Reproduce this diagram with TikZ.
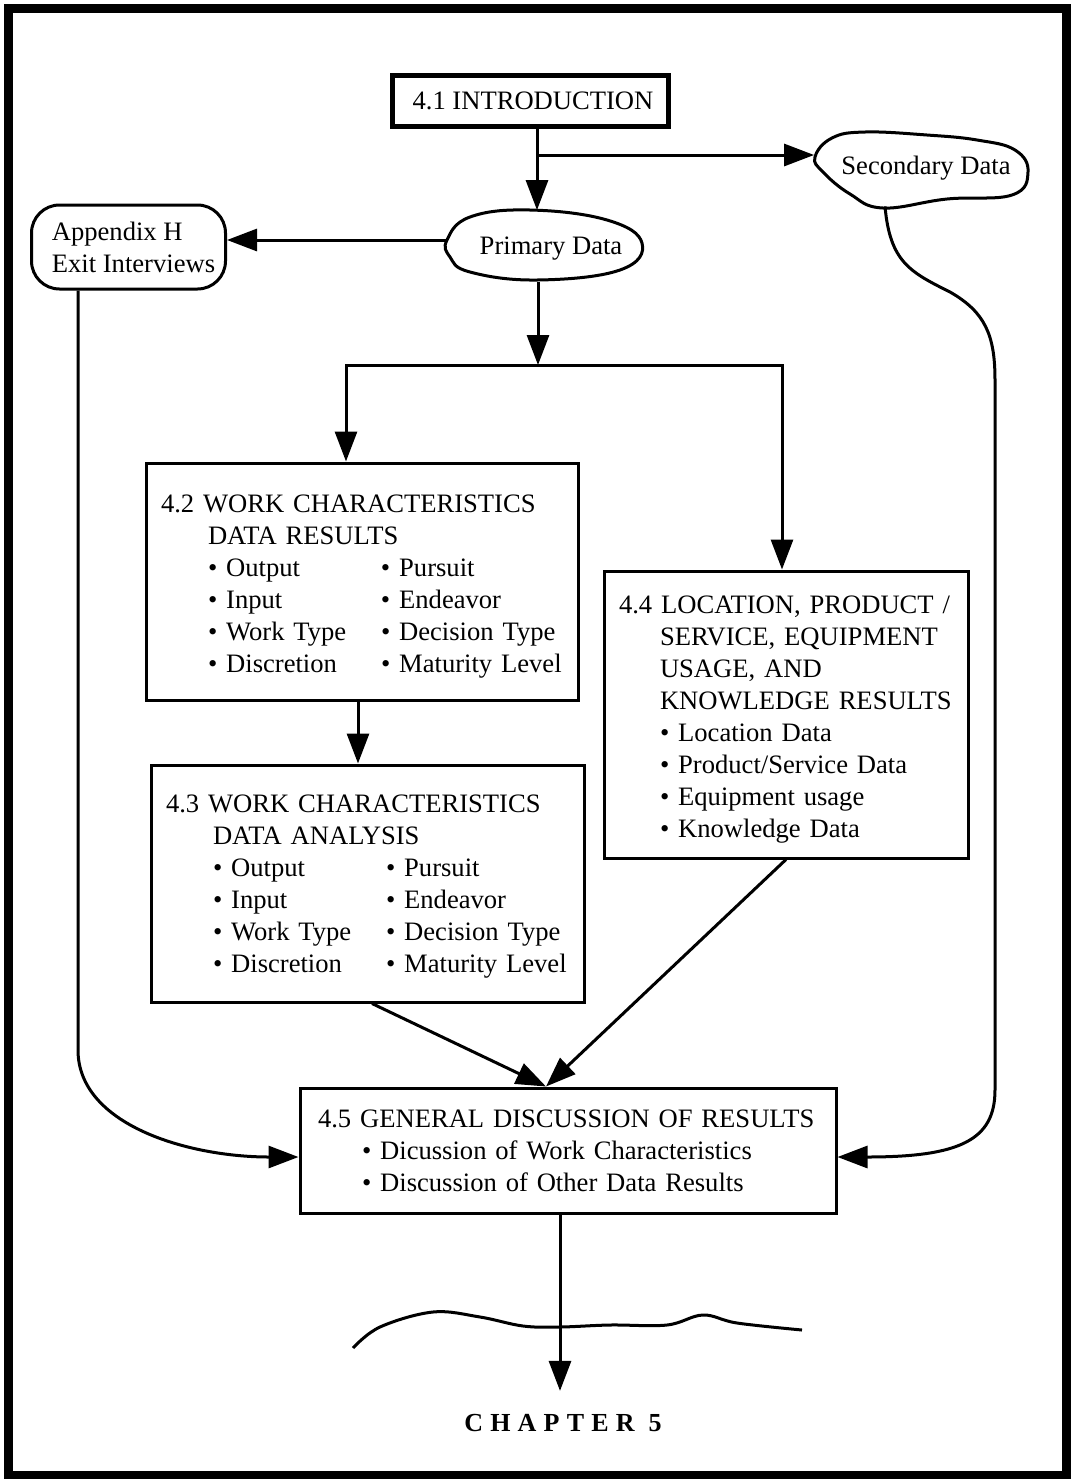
\documentclass[tikz,border=0pt]{standalone}
\usepackage{fontspec}
\setmainfont{Liberation Serif}
\usetikzlibrary{arrows.meta,calc}
\newcommand\fsz{\fontsize{13.3}{16}\selectfont}
\newcommand\twocol[2]{\makebox[86.5pt][l]{\textbullet\ #1}\textbullet\ #2}
\newcommand\lift[1]{\rule{0pt}{#1}}
\begin{document}
\begin{tikzpicture}[x=0.5pt,y=-0.5pt,
  line/.style={line width=1.5pt},
  arr/.style={line width=1.5pt,-{Triangle[length=15pt,width=11pt]}},
  box/.style={draw,line width=1.5pt,rectangle,align=left,font=\fsz,inner xsep=7.5pt,inner ysep=0pt},
  blob/.style={line width=1.5pt},
  lbl/.style={font=\fsz,inner sep=0pt}]
\useasboundingbox (0,0) rectangle (1071,1479);
% page frame
\draw[line width=4.5pt] (8.5,8.5) rectangle (1066.5,1475.5);

% nodes
\node[draw,line width=2.5pt,font=\fsz,minimum width=138pt,minimum height=25.5pt,inner sep=0pt] (intro) at (530,100.5) {\hspace*{3pt}4.1 INTRODUCTION};
\node[draw,line width=1.5pt,rounded corners=14pt,font=\fsz,align=left,minimum width=97pt,minimum height=42pt,inner sep=0pt] (appx) at (128.5,247) {\hspace*{5pt}Appendix H\\\hspace*{5pt}Exit Interviews};
\node[lbl,minimum width=97.5pt,minimum height=35.5pt] (prim) at (546,246) {\hspace*{5pt}\lift{11pt}Primary Data};
\node[lbl,minimum width=106.5pt,minimum height=38pt] (sec) at (921,168) {\hspace*{5pt}Secondary Data};

% cloud outlines
\draw[blob] plot[smooth cycle,tension=0.7] coordinates {(447,240) (470,217) (530,210) (607,220) (642,243) (620,270) (537,280) (470,272) (450,257)};
\draw[blob] plot[smooth cycle,tension=0.7] coordinates {(815,157) (832,138) (865,132) (927,135) (977,140) (1015,150) (1028,172) (1012,195) (947,199) (883,208) (850,194) (823,172)};

\node[box,text width=201pt,minimum height=118.5pt] (wcr) at (362,581.5) {\lift{14pt}4.2 WORK CHARACTERISTICS\\
\hspace*{23.5pt}DATA RESULTS\\
\hspace*{23.5pt}\twocol{Output}{Pursuit}\\
\hspace*{23.5pt}\twocol{Input}{Endeavor}\\
\hspace*{23.5pt}\twocol{Work Type}{Decision Type}\\
\hspace*{23.5pt}\twocol{Discretion}{Maturity Level}};

\node[box,text width=201.5pt,minimum height=118.5pt] (wca) at (367.5,883.5) {\lift{12pt}4.3 WORK CHARACTERISTICS\\
\hspace*{23.5pt}DATA ANALYSIS\\
\hspace*{23.5pt}\twocol{Output}{Pursuit}\\
\hspace*{23.5pt}\twocol{Input}{Endeavor}\\
\hspace*{23.5pt}\twocol{Work Type}{Decision Type}\\
\hspace*{23.5pt}\twocol{Discretion}{Maturity Level}};

\node[box,text width=167pt,minimum height=143.5pt] (loc) at (786,714.5) {\lift{14pt}4.4 LOCATION, PRODUCT /\\
\hspace*{20.5pt}SERVICE, EQUIPMENT\\
\hspace*{20.5pt}USAGE, AND\\
\hspace*{20.5pt}KNOWLEDGE RESULTS\\
\hspace*{20.5pt}\textbullet\ Location Data\\
\hspace*{20.5pt}\textbullet\ Product/Service Data\\
\hspace*{20.5pt}\textbullet\ Equipment usage\\
\hspace*{20.5pt}\textbullet\ Knowledge Data};

\node[box,inner xsep=9pt,text width=250pt,minimum height=62.5pt] (gd) at (568,1150.5) {4.5 GENERAL DISCUSSION OF RESULTS\\
\hspace*{22pt}\textbullet\ Dicussion of Work Characteristics\\
\hspace*{22pt}\textbullet\ Discussion of Other Data Results};

\node[font=\bfseries\fontsize{13}{15}\selectfont,inner xsep=0pt,inner ysep=11.5pt] (chap) at (563,1423)
  {C\kern3.6pt H\kern3.6pt A\kern3.6pt P\kern3.6pt T\kern3.6pt E\kern3.6pt R\kern7pt 5};

% connectors
\coordinate (j1) at (537,155);
\draw[arr] (intro.south -| j1) -- (prim.north -| j1);
\draw[arr] (j1) -- (sec.west |- j1);
\draw[arr] ([yshift=3pt]prim.west) -- ([yshift=3pt]prim.west -| appx.east);

\coordinate (j2) at (538,365);
\coordinate (b1) at (346,365);
\coordinate (b2) at (782,365);
\draw[arr] (prim.south -| j2) -- (j2);
\draw[arr] (j2) -- (b1) -- (b1 |- wcr.north);
\draw[arr] (j2) -- (b2) -- (b2 |- loc.north);

\draw[arr] ([xshift=-2pt]wcr.south) -- ([xshift=-2pt]wcr.south |- wca.north);
\draw[arr] ([xshift=2.25pt]wca.south) -- ([xshift=-11pt]gd.north);
\draw[arr] (loc.south) -- ([xshift=-11pt]gd.north);

\coordinate (a1) at (78,1050);
\draw[arr] (appx.south -| a1) -- (a1) .. controls +(0,75) and +(-110,0) .. ([yshift=-3.25pt]gd.west);

\draw[arr] ([xshift=-18pt]sec.south) .. controls (890,262) and (910,272) .. (950,292)
  .. controls (985,312) and (995,335) .. (995,380) -- (995,1090)
  .. controls (995,1140) and (960,1157) .. ([yshift=-3.25pt]gd.east);

\coordinate (c1) at (560,1300);
\draw[arr] (gd.south -| c1) -- (chap.north -| c1);

% torn edge across the last arrow
\draw[line width=1.5pt] plot[smooth,tension=0.6] coordinates {(353,1348) (380,1327) (433,1312) (480,1317) (523,1326) (560,1327) (610,1325) (667,1325) (703,1315) (737,1323) (802,1330)};
\end{tikzpicture}
\end{document}
